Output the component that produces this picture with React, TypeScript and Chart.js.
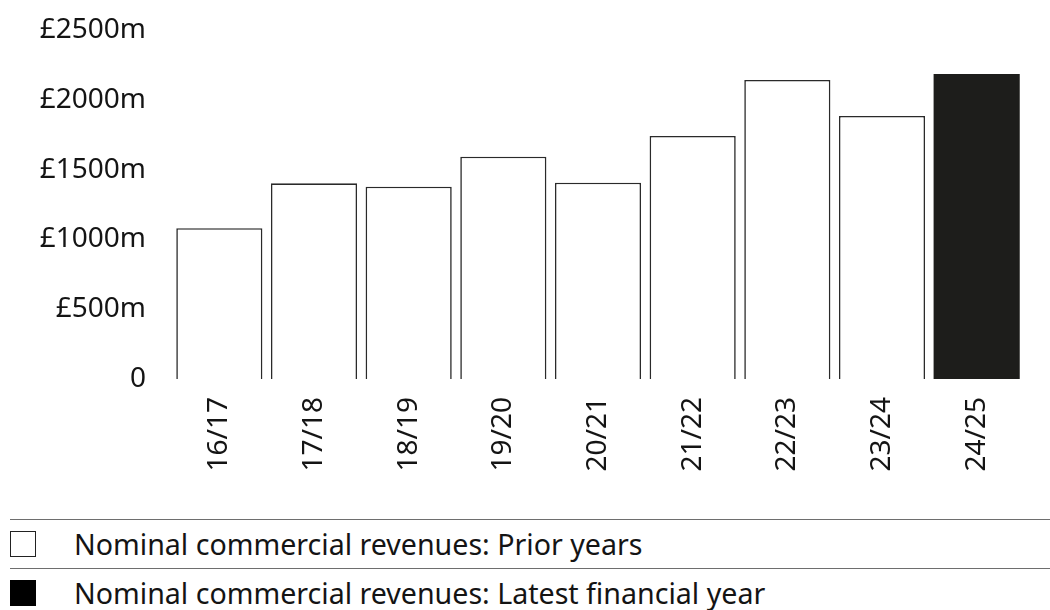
import React, { useEffect, useRef } from "react";
import { Chart, registerables } from "chart.js";

Chart.register(...registerables);

const categories = ["16/17", "17/18", "18/19", "19/20", "20/21", "21/22", "22/23", "23/24", "24/25"];
const revenues = [1080, 1402, 1378, 1592, 1406, 1741, 2142, 1884, 2185];
const yTickValues = [0, 500, 1000, 1500, 2000, 2500];
const yTickLabels = ["0", "£500m", "£1000m", "£1500m", "£2000m", "£2500m"];
const legendLabels = [
  "Nominal commercial revenues: Prior years",
  "Nominal commercial revenues: Latest financial year",
];

const FONT = "'Noto Sans', sans-serif";
const TEXT = "#141414";
const DARK = "#1d1d1b";

export default function App() {
  const canvasRef = useRef<HTMLCanvasElement | null>(null);

  useEffect(() => {
    document.body.style.margin = "0";
    const canvas = canvasRef.current;
    if (!canvas) return;
    const last = revenues.length - 1;
    const chart = new Chart(canvas, {
      type: "bar",
      data: {
        labels: categories,
        datasets: [
          {
            label: "Nominal commercial revenues",
            data: revenues,
            backgroundColor: revenues.map((_, i) => (i === last ? DARK : "#ffffff")),
            borderColor: revenues.map((_, i) => (i === last ? DARK : "#2a2a2a")),
            borderWidth: revenues.map((_, i) => (i === last ? 0 : 1.6)),
            barPercentage: 0.91,
            categoryPercentage: 1,
          },
        ],
      },
      options: {
        animation: false,
        responsive: false,
        maintainAspectRatio: false,
        layout: { padding: { top: 30, right: 26, bottom: 0, left: 0 } },
        plugins: {
          legend: { display: false },
          tooltip: { enabled: false },
        },
        scales: {
          x: {
            grid: { display: false, drawTicks: false },
            border: { display: false },
            ticks: {
              minRotation: 90,
              maxRotation: 90,
              padding: 18,
              color: TEXT,
              font: { family: FONT, size: 28 },
            },
            afterFit: (axis: any) => {
              axis.height = 121;
            },
          },
          y: {
            min: 0,
            max: 2500,
            grid: { display: false, drawTicks: false },
            border: { display: false },
            afterBuildTicks: (axis: any) => {
              axis.ticks = yTickValues.map((v) => ({ value: v }));
            },
            ticks: {
              padding: 26,
              color: TEXT,
              font: { family: FONT, size: 28 },
              callback: (value: any) => {
                const idx = yTickValues.indexOf(Number(value));
                return idx >= 0 ? yTickLabels[idx] : "";
              },
            },
            afterFit: (axis: any) => {
              axis.width = 172;
              axis.paddingTop = 0;
              axis.paddingBottom = 0;
            },
          },
        },
      },
    });
    return () => chart.destroy();
  }, []);

  const itemStyle: React.CSSProperties = {
    position: "relative",
    borderTop: "1px solid #6e6e6e",
    height: 48,
  };
  const textStyle: React.CSSProperties = {
    position: "absolute",
    left: 64,
    top: 4,
    lineHeight: "39px",
    fontFamily: FONT,
    fontSize: 28.6,
    color: TEXT,
    whiteSpace: "nowrap",
  };

  return (
    <div style={{ width: 1050, height: 610, position: "relative", background: "#fff", overflow: "hidden" }}>
      <canvas ref={canvasRef} width={1050} height={500} style={{ display: "block", width: 1050, height: 500 }} />
      <div style={{ position: "absolute", left: 10, top: 519, width: 1040 }}>
        <div style={itemStyle}>
          <div
            style={{
              position: "absolute",
              left: 0,
              top: 11,
              width: 26,
              height: 26,
              boxSizing: "border-box",
              border: "1.5px solid #222",
              background: "#fff",
            }}
          />
          <span style={textStyle}>{legendLabels[0]}</span>
        </div>
        <div style={itemStyle}>
          <div
            style={{
              position: "absolute",
              left: 0,
              top: 11,
              width: 26,
              height: 26,
              background: "#000",
            }}
          />
          <span style={textStyle}>{legendLabels[1]}</span>
        </div>
      </div>
    </div>
  );
}
